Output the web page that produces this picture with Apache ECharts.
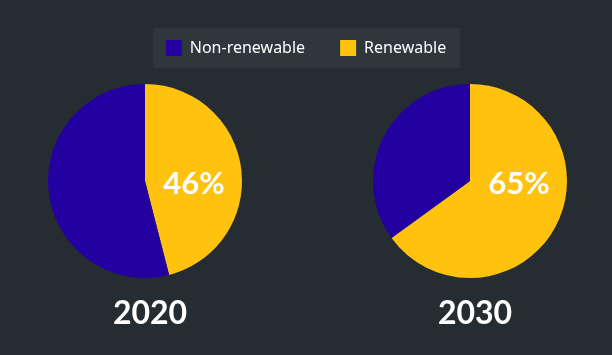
<!DOCTYPE html>
<html><head><meta charset="utf-8">
<script src="https://cdn.jsdelivr.net/npm/echarts@6/dist/echarts.min.js"></script>
<style>html,body{margin:0;padding:0;background:#252c32;}#c{width:612px;height:355px;}</style>
</head><body><div id="c"></div>
<script>
const years = ['2020', '2030'];
const categories = ['Non-renewable', 'Renewable'];
const renewable = [46, 65];
const nonRenewable = [54, 35];
const colors = { 'Non-renewable': '#2300a0', 'Renewable': '#ffc20f' };
const centersX = [145, 470];

const chart = echarts.init(document.getElementById('c'), null, { renderer: 'canvas' });
const font = 'Lato, "Noto Sans", sans-serif';

const series = years.map((y, i) => ({
  type: 'pie',
  name: y,
  center: [centersX[i], 181],
  radius: 97,
  startAngle: 90,
  clockwise: true,
  animation: false,
  silent: true,
  label: { show: false },
  labelLine: { show: false },
  itemStyle: { borderWidth: 0 },
  data: [
    { name: 'Renewable', value: renewable[i], itemStyle: { color: colors['Renewable'] },
      label: { show: true, position: 'center', offset: [49, 3], formatter: p => p.value + '%',
        color: '#ffffff', fontSize: 31, fontWeight: 'bold', fontFamily: font } },
    { name: 'Non-renewable', value: nonRenewable[i], itemStyle: { color: colors['Non-renewable'] } }
  ]
}));

chart.setOption({
  backgroundColor: '#252c32',
  title: years.map((y, i) => ({
    text: y,
    left: centersX[i],
    top: 293,
    textAlign: 'center',
    textStyle: { color: '#ffffff', fontSize: 32, fontWeight: 'bold', fontFamily: font }
  })),
  legend: {
    data: categories,
    left: 'center',
    top: 28,
    backgroundColor: '#2f363c',
    padding: [12, 14, 12, 13],
    itemWidth: 16,
    itemHeight: 16,
    itemGap: 35,
    icon: 'rect',
    selectedMode: false,
    textStyle: { color: '#ffffff', fontSize: 16, fontFamily: '"Noto Sans", sans-serif', padding: [0, 0, 0, 3] }
  },
  series: series
});
</script></body></html>
